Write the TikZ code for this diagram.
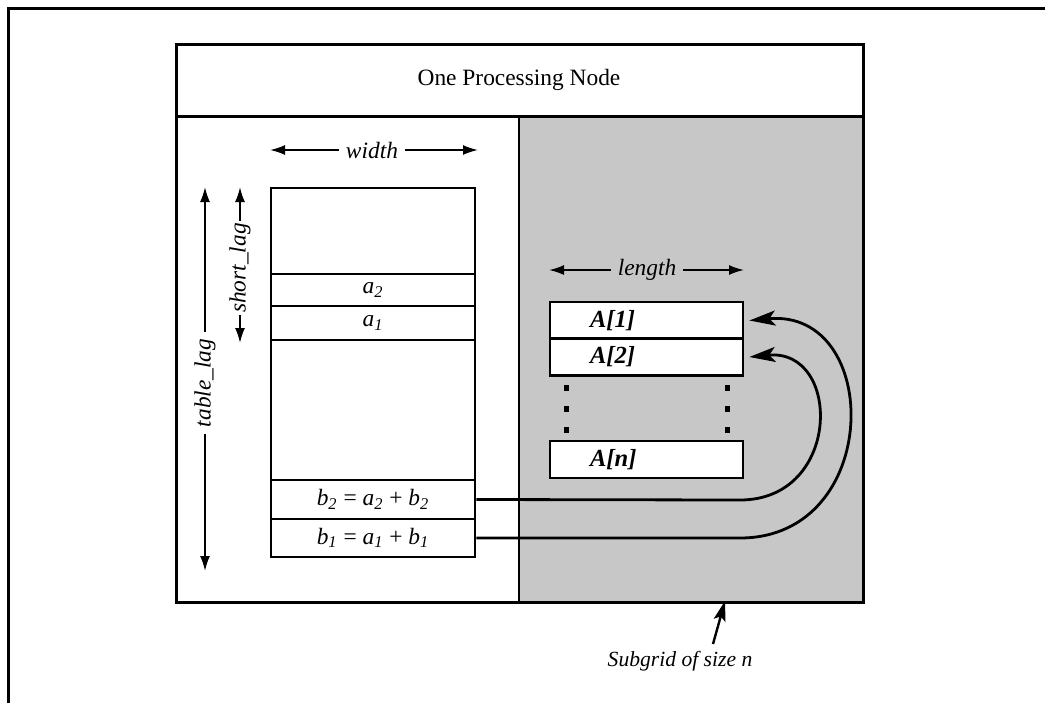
\documentclass[tikz,border=0pt]{standalone}
\usepackage{fontspec}
\setmainfont{Liberation Serif}
\usetikzlibrary{arrows.meta, calc, positioning}

\definecolor{gridshade}{gray}{0.78}

\begin{document}
\begin{tikzpicture}[x=0.5pt, y=-0.5pt,
    every node/.style={font=\fontsize{11.7}{14}\selectfont},
    frame/.style={line width=1.5pt},
    rowbox/.style={draw, line width=1.4pt, fill=white, minimum width=102pt, inner sep=0pt},
    cellbox/.style={draw, line width=1.4pt, fill=white, minimum height=18.5pt,
        text width=56.5pt, inner xsep=20pt, inner ysep=0pt, align=left,
        font=\fontsize{12.3}{14}\selectfont\bfseries\itshape},
    dim/.style={line width=0.9pt, -{Latex[length=7.5pt,width=5pt]}},
    loopback/.style={line width=1.4pt, -{Stealth[length=13pt,width=7.5pt,inset=3pt]}}]
    \useasboundingbox (0,0) rectangle (1045,703);

    % Outer frame (only top and left edges show)
    \draw[frame] (8,703) -- (8,8) -- (1045,8);

    % Processing node box, shaded subgrid on the right
    \fill[gridshade] (519,116) rectangle (863,602);
    \draw[frame] (176,44) rectangle (863,602);
    \draw[frame] (176,116) -- (863,116);
    \draw[line width=1pt] (519,116) -- (519,602);
    \node (title) at (519,80) {One Processing Node};

    % The table on the left
    \node[rowbox, minimum height=184.5pt] (table) at (373,372.5) {};
    \node[rowbox, minimum height=16pt] (a2) at (373,290) {\textit{a}\textsubscript{\textit{2}}};
    \node[rowbox, minimum height=17pt] (a1) at (373,323) {\textit{a}\textsubscript{\textit{1}}};
    \node[rowbox, minimum height=19.5pt] (b2) at (373,499.5)
        {\textit{b}\textsubscript{\textit{2}} = \textit{a}\textsubscript{\textit{2}} + \textit{b}\textsubscript{\textit{2}}};
    \node[rowbox, minimum height=19pt] (b1) at (373,538)
        {\textit{b}\textsubscript{\textit{1}} = \textit{a}\textsubscript{\textit{1}} + \textit{b}\textsubscript{\textit{1}}};

    % width label
    \coordinate (wdl) at (270,150);
    \coordinate (wdr) at (478,150);
    \node (wd) at (372,150) {\textit{width}};
    \draw[dim] (wd.west) -- (wdl);
    \draw[dim] (wd.east) -- (wdr);

    % table_lag label
    \coordinate (tlagtop) at (205,187);
    \coordinate (tlagbot) at (205,571);
    \node[rotate=90] (tlag) at (205,383) {\textit{table\_lag}};
    \draw[dim] (tlag.east) -- (tlagtop);
    \draw[dim] (tlag.west) -- (tlagbot);

    % short_lag label
    \coordinate (slagtop) at (240,187);
    \coordinate (slagbot) at (240,343);
    \node[rotate=90, inner sep=1pt] (slag) at (240,268) {\textit{short\_lag}};
    \draw[dim] (slag.east) -- (slagtop);
    \draw[dim] (slag.west) -- (slagbot);

    % The array on the right
    \node[cellbox] (A1) at (646.5,320.5) {A[1]};
    \node[cellbox] (A2) at (646.5,357) {A[2]};
    \node[cellbox] (An) at (646.5,459.5) {A[n]};
    \foreach \y in {388,409,430} {
        \fill (564,\y-3) rectangle (569,\y+3);
        \fill (725,\y-3) rectangle (730,\y+3);
    }

    % length label
    \coordinate (lnl) at (549,270);
    \coordinate (lnr) at (744,270);
    \node (ln) at (647,270) {\textit{length}};
    \draw[dim] (ln.west) -- (lnl);
    \draw[dim] (ln.east) -- (lnr);

    % Results sent back into the array
    \draw[loopback] (b2.east) -- (740,500) .. controls (842,500) and (842,348) .. ([xshift=2.5pt]A2.east);
    \draw[loopback] (b1.east) -- (740,538) .. controls (883,538) and (883,308) .. ([xshift=2.5pt]A1.east);

    % Subgrid note
    \coordinate (subtip) at (725,601);
    \node[font=\fontsize{10.8}{13}\selectfont] (sub) at (680,661) {\textit{Subgrid of size n}};
    \draw[line width=1.2pt, -{Stealth[length=10pt,width=6pt,inset=2pt]}] ([xshift=16.5pt]sub.north) -- (subtip);
\end{tikzpicture}
\end{document}
